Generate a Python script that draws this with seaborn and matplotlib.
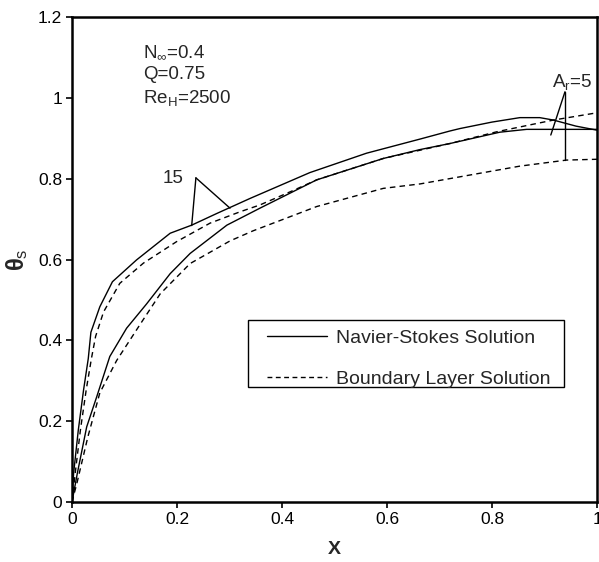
import matplotlib
matplotlib.use("Agg")
import matplotlib.pyplot as plt
import seaborn as sns
import pandas as pd
from matplotlib.lines import Line2D
from matplotlib.patches import Rectangle

sns.set_style("ticks")
plt.rcParams['font.family'] = ['Liberation Sans', 'DejaVu Sans']
plt.rcParams['mathtext.fontset'] = 'custom'
plt.rcParams['mathtext.rm'] = 'Liberation Sans'
plt.rcParams['mathtext.it'] = 'Liberation Sans:italic'
plt.rcParams['mathtext.bf'] = 'Liberation Sans:bold'

# Navier-Stokes, Ar = 15
ns15_x = [0, 0.003, 0.012, 0.022, 0.031, 0.036, 0.053, 0.077, 0.123, 0.187, 0.228, 0.276, 0.339, 0.453, 0.561, 0.663, 0.72, 0.739, 0.80, 0.853, 0.891, 0.917, 0.96, 1.0]
ns15_y = [0, 0.07, 0.178, 0.277, 0.355, 0.42, 0.483, 0.545, 0.599, 0.665, 0.685, 0.714, 0.751, 0.815, 0.863, 0.898, 0.918, 0.924, 0.94, 0.951, 0.951, 0.945, 0.93, 0.92]
# Navier-Stokes, Ar = 5
ns5_x = [0, 0.01, 0.028, 0.047, 0.072, 0.104, 0.142, 0.187, 0.225, 0.295, 0.358, 0.466, 0.593, 0.663, 0.72, 0.815, 0.866, 1.0]
ns5_y = [0, 0.07, 0.186, 0.26, 0.36, 0.43, 0.49, 0.565, 0.615, 0.685, 0.727, 0.797, 0.85, 0.872, 0.887, 0.915, 0.922, 0.922]
# Boundary layer, Ar = 15
bl15_x = [0, 0.006, 0.016, 0.027, 0.037, 0.045, 0.06, 0.091, 0.136, 0.199, 0.263, 0.32, 0.358, 0.42, 0.466, 0.593, 0.72, 0.809, 0.872, 0.917, 1.0]
bl15_y = [0, 0.07, 0.178, 0.277, 0.355, 0.41, 0.47, 0.541, 0.591, 0.644, 0.69, 0.718, 0.735, 0.77, 0.797, 0.85, 0.887, 0.916, 0.933, 0.945, 0.963]
# Boundary layer, Ar = 5
bl5_x = [0, 0.01, 0.03, 0.053, 0.085, 0.13, 0.168, 0.225, 0.301, 0.345, 0.466, 0.593, 0.663, 0.745, 0.853, 0.942, 1.0]
bl5_y = [0, 0.05, 0.16, 0.27, 0.35, 0.44, 0.515, 0.59, 0.646, 0.671, 0.731, 0.776, 0.787, 0.806, 0.831, 0.846, 0.848]

x_ticks = [0, 0.2, 0.4, 0.6, 0.8, 1]
x_ticklabels = ["0", "0.2", "0.4", "0.6", "0.8", "1"]
y_ticks = [0, 0.2, 0.4, 0.6, 0.8, 1.0, 1.2]
y_ticklabels = ["0", "0.2", "0.4", "0.6", "0.8", "1", "1.2"]
legend_labels = ["Navier-Stokes Solution", "Boundary Layer Solution"]

fig = plt.figure(figsize=(5.99, 5.62), dpi=100)
ax = fig.add_axes([72/599, 60/562, 525/599, 485/562])

curves = [(ns15_x, ns15_y, '-'), (ns5_x, ns5_y, '-'),
          (bl15_x, bl15_y, (0, (4, 3))), (bl5_x, bl5_y, (0, (4, 3)))]
for xs, ys, ls in curves:
    df = pd.DataFrame({"x": xs, "y": ys})
    sns.lineplot(data=df, x="x", y="y", ax=ax, color="black", linewidth=1.0,
                 linestyle=ls, sort=False, estimator=None)

ax.set_xlim(0, 1)
ax.set_ylim(0, 1.2)
ax.set_xticks(x_ticks)
ax.set_xticklabels(x_ticklabels)
ax.set_yticks(y_ticks)
ax.set_yticklabels(y_ticklabels)
ax.tick_params(axis='both', labelsize=12.5, length=4, width=1.2, direction='out', colors='black', pad=3)
for s in ax.spines.values():
    s.set_linewidth(1.8)
    s.set_color('black')
ax.set_xlabel("X", fontsize=14, fontweight='bold', labelpad=10)
ax.set_ylabel(r"$\mathbf{\theta}$$_{\mathregular{s}}$", fontsize=17, labelpad=6)

# annotations
ax.text(0.135, 1.113, r"N$_{\infty}$=0.4", fontsize=13.5, va='center')
ax.text(0.135, 1.057, "Q=0.75", fontsize=13.5, va='center')
ax.text(0.135, 0.999, r"Re$_{\mathregular{H}}$=2500", fontsize=13.5, va='center')

ax.text(0.192, 0.80, "15", fontsize=13.5, ha='center', va='center')
ax.plot([0.236, 0.228], [0.802, 0.684], color='black', lw=1)
ax.plot([0.236, 0.301], [0.802, 0.727], color='black', lw=1)

ax.text(0.953, 1.04, r"A$_{\mathregular{r}}$=5", fontsize=13.5, ha='center', va='center')
ax.plot([0.939, 0.912], [1.015, 0.908], color='black', lw=1)
ax.plot([0.939, 0.939], [1.015, 0.846], color='black', lw=1)

# legend frame
ax.add_patch(Rectangle((0.335, 0.285), 0.602, 0.165, fill=True, facecolor='white',
                       edgecolor='black', linewidth=1.0, zorder=4))
handles = [Line2D([], [], color='black', lw=1.0, linestyle='-'),
           Line2D([], [], color='black', lw=1.0, linestyle=(0, (3.5, 2.5)))]
leg = ax.legend(handles, legend_labels,
                loc='upper left', bbox_to_anchor=(0.371, 0.356),
                fontsize=14, frameon=False, handlelength=3.1, handletextpad=0.45,
                labelspacing=1.2, borderpad=0, borderaxespad=0)
leg.set_zorder(5)

fig.savefig("out.png", dpi=100)
